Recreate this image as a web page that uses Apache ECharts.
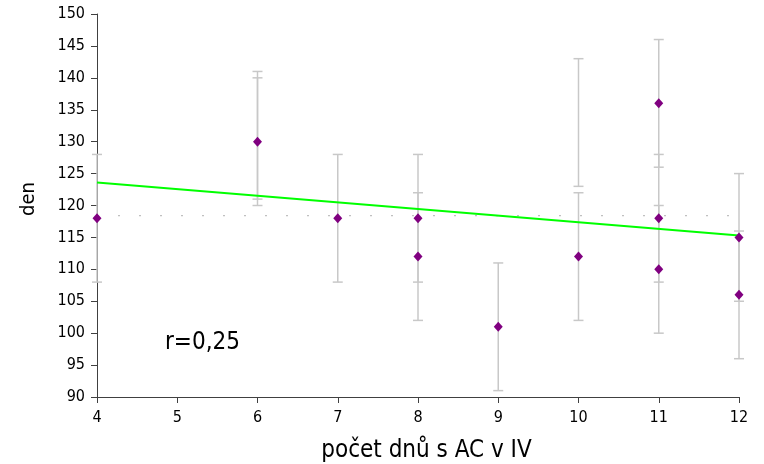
<!DOCTYPE html>
<html><head><meta charset="utf-8">
<script src="https://cdn.jsdelivr.net/npm/echarts@6/dist/echarts.min.js"></script>
<style>html,body{margin:0;padding:0;background:#fff}#c{width:764px;height:464px}</style>
</head><body><div id="c"></div>
<script>
// points
const pointX = [4, 6, 7, 8, 8, 9, 10, 11, 11, 11, 12, 12];
const pointY = [118, 130, 118, 118, 112, 101, 112, 136, 118, 110, 115, 106];
// error bars
const errX    = [4,   6,   6,   7,   8,   8,   9,  10,  10,  11,  11,  11,  12,  12];
const errLow  = [108, 120, 121, 108, 108, 102, 91, 102, 123, 126, 108, 100, 105, 96];
const errHigh = [128, 140, 141, 128, 128, 122, 111, 122, 143, 146, 128, 120, 125, 116];
// regression line
const regX = [4, 12];
const regY = [123.6, 115.3];
// mean line
const meanX = [4, 12];
const meanY = [118.4, 118.4];
const xTicks = [4, 12, 1];
const yTicks = [90, 150, 5];

const chart = echarts.init(document.getElementById('c'), null, {renderer: 'canvas'});
const font = "'DejaVu Sans Condensed', 'DejaVu Sans'";
const axisCol = '#404040';
chart.setOption({
  animation: false,
  grid: {left: 97, right: 25, top: 14, bottom: 67, containLabel: false, outerBoundsMode: 'none'},
  xAxis: {
    type: 'value', min: xTicks[0], max: xTicks[1], interval: xTicks[2],
    name: 'počet dnů s AC v IV', nameLocation: 'middle', nameGap: 42,
    nameTextStyle: {fontFamily: font, fontSize: 24, color: '#000', padding: [0, 0, 0, 17]},
    axisLine: {lineStyle: {color: axisCol, width: 1}},
    axisTick: {show: true, length: 6, lineStyle: {color: axisCol}},
    axisLabel: {fontFamily: font, fontSize: 16, color: '#000', margin: 13},
    splitLine: {show: false}
  },
  yAxis: {
    type: 'value', min: yTicks[0], max: yTicks[1], interval: yTicks[2],
    name: 'den', nameLocation: 'middle', nameGap: 58, nameRotate: 90,
    nameTextStyle: {fontFamily: font, fontSize: 20, color: '#000', padding: [0, 0, 0, 13]},
    axisLine: {show: true, lineStyle: {color: axisCol, width: 1}},
    axisTick: {show: true, length: 6, lineStyle: {color: axisCol}},
    axisLabel: {fontFamily: font, fontSize: 16, color: '#000', margin: 12},
    splitLine: {show: false}
  },
  series: [
    {
      type: 'custom', z: 1,
      data: errX.map((x, i) => [x, errLow[i], errHigh[i]]),
      renderItem: function (params, api) {
        const lo = api.coord([api.value(0), api.value(1)]);
        const hi = api.coord([api.value(0), api.value(2)]);
        const w = 5;
        const st = {stroke: '#c8c8c8', lineWidth: 1.5};
        return {type: 'group', children: [
          {type: 'line', shape: {x1: lo[0], y1: lo[1], x2: hi[0], y2: hi[1]}, style: st},
          {type: 'line', shape: {x1: lo[0]-w, y1: lo[1], x2: lo[0]+w, y2: lo[1]}, style: st},
          {type: 'line', shape: {x1: hi[0]-w, y1: hi[1], x2: hi[0]+w, y2: hi[1]}, style: st}
        ]};
      }
    },
    {
      type: 'line', z: 2, symbol: 'none',
      data: meanX.map((x, i) => [x, meanY[i]]),
      lineStyle: {color: '#b0b0b0', width: 1, type: [2, 19]}
    },
    {
      type: 'line', z: 3, symbol: 'none',
      data: regX.map((x, i) => [x, regY[i]]),
      lineStyle: {color: '#00ff00', width: 2}
    },
    {
      type: 'scatter', z: 4, symbol: 'diamond', symbolSize: [9, 10],
      data: pointX.map((x, i) => [x, pointY[i]]),
      itemStyle: {color: '#800080', opacity: 1}
    }
  ],
  graphic: [{
    type: 'text', left: 165, top: 331,
    style: {text: 'r=0,25', fontFamily: font, fontSize: 24, fill: '#000'}
  }]
});
</script></body></html>
